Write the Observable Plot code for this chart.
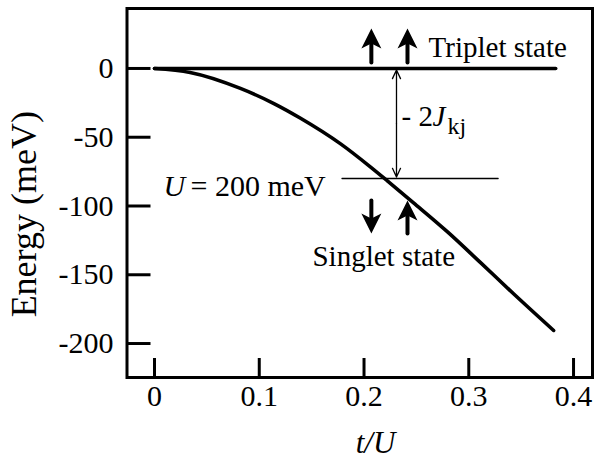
<!DOCTYPE html>
<html>
<head>
<meta charset="utf-8">
<script src="https://cdn.jsdelivr.net/npm/d3@7"></script>
<script src="https://cdn.jsdelivr.net/npm/@observablehq/plot@0.6"></script>
<style>
  html, body { margin: 0; padding: 0; background: #fff; }
  #chart { width: 595px; height: 466px; }
  #chart svg { color: #000; background: #fff; }
  #chart svg, #chart svg text { font-family: "Liberation Serif", "DejaVu Serif", serif !important; }
</style>
</head>
<body>
<div id="chart"></div>
<script>
// ---- data ----
const xTicks = [0, 0.1, 0.2, 0.3, 0.4];
const xTickLabels = ["0", "0.1", "0.2", "0.3", "0.4"];
const yTicks = [0, -50, -100, -150, -200];
const yTickLabels = ["0", "-50", "-100", "-150", "-200"];

// singlet state energy vs t/U
const tOverU   = [0, 0.034, 0.082, 0.114, 0.139, 0.178, 0.206, 0.222, 0.247, 0.280, 0.311, 0.343, 0.381];
const singletE = [0, -2.9, -14.5, -25.5, -36, -55, -71.5, -81.5, -97.5, -119, -141, -164, -190.5];

// triplet state level
const tripletX = [0, 0.383];
const tripletE = [0, 0];

// U = 200 meV reference level
const uLevelX = [0.179, 0.328];
const uLevelE = [-80, -80];

// -2J double arrow
const jArrowX = 0.231;
const jArrowE = [0, -80];

// spin arrows: x, tail, tip
const spinX    = [0.207, 0.2415, 0.207, 0.2415];
const spinTail = [4.4, 4.4, -96, -120];
const spinTip  = [29, 29, -120, -96];

// labels
const labelTexts = ["Triplet state", "Singlet state", "= 200 meV", "- 2"];
const labelX     = [0.2616, 0.1508, 0.0344, 0.2358];
const labelY     = [8, -143.3, -92.4, -41.5];
const labelSize  = [29, 29, 30, 29];

// ---- build ----
const serif = "Liberation Serif";
const W = 595, H = 466, ML = 126.5, MR = 3, MT = 8, MB = 89;
const xDomain = [-0.02625, 0.4181], yDomain = [-224.7, 43.6];
const frameW = W - ML - MR, frameH = H - MT - MB;
// inward tick lengths (px) converted to data units
const xTickLen = 19 * (yDomain[1] - yDomain[0]) / frameH;
const yTickLen = 24 * (xDomain[1] - xDomain[0]) / frameW;
const xTickMarks = xTicks.map(v => ({x: v, y1: yDomain[0], y2: yDomain[0] + xTickLen}));
const yTickMarks = yTicks.map(v => ({y: v, x1: xDomain[0], x2: xDomain[0] + yTickLen}));

const curve = tOverU.map((x, i) => ({x, y: singletE[i]}));
const spins = spinX.map((x, i) => ({x, tail: spinTail[i], tip: spinTip[i], down: spinTip[i] < spinTail[i]}));
const labels = labelTexts.map((t, i) => ({t, x: labelX[i], y: labelY[i], s: labelSize[i]}));
const jMid = (jArrowE[0] + jArrowE[1]) / 2;
const jArrows = jArrowE.map(e => ({x: jArrowX, y1: jMid, y2: e}));

// barbed arrowhead, tip at origin pointing up
const headSymbol = {
  draw(ctx) {
    ctx.moveTo(0, 0);
    ctx.lineTo(10, 20);
    ctx.lineTo(0, 15);
    ctx.lineTo(-10, 20);
    ctx.closePath();
  }
};

const chart = Plot.plot({
  width: W,
  height: H,
  marginLeft: ML,
  marginRight: MR,
  marginTop: MT,
  marginBottom: MB,
  x: {domain: xDomain},
  y: {domain: yDomain},
  marks: [
    Plot.frame({strokeWidth: 3, stroke: "black", fill: "none"}),
    // inward ticks
    Plot.ruleX(xTickMarks, {x: "x", y1: "y1", y2: "y2", stroke: "black", strokeWidth: 3}),
    Plot.ruleY(yTickMarks, {y: "y", x1: "x1", x2: "x2", stroke: "black", strokeWidth: 3}),
    Plot.axisX(xTicks, {tickSize: 0, tickPadding: 7, tickFormat: d => xTickLabels[xTicks.indexOf(d)], label: null, fontSize: 30, fill: "black"}),
    Plot.axisY(yTicks, {tickSize: 0, tickPadding: 13.5, tickFormat: d => yTickLabels[yTicks.indexOf(d)], label: null, fontSize: 30, fill: "black"}),
    // triplet level
    Plot.line(tripletX.map((x, i) => ({x, y: tripletE[i]})), {x: "x", y: "y", strokeWidth: 3.5, stroke: "black"}),
    // singlet curve
    Plot.line(curve, {x: "x", y: "y", curve: "monotone-x", strokeWidth: 3.6, stroke: "black", strokeLinecap: "round"}),
    // U level
    Plot.line(uLevelX.map((x, i) => ({x, y: uLevelE[i]})), {x: "x", y: "y", strokeWidth: 1.3, stroke: "black"}),
    // -2J double arrow
    Plot.arrow(jArrows, {x: "x", y1: "y1", y2: "y2", strokeWidth: 1.3, headLength: 11, headAngle: 50, insetEnd: 1.5, stroke: "black"}),
    // spin arrows
    Plot.arrow(spins, {x: "x", y1: "tail", y2: "tip", strokeWidth: 4, headLength: 0, insetEnd: 10, stroke: "black"}),
    Plot.dot(spins, {x: "x", y: "tip", symbol: headSymbol, r: 10, fill: "black", stroke: null, rotate: d => d.down ? 180 : 0}),
    // labels
    Plot.text(labels, {x: "x", y: "y", text: "t", textAnchor: "start", lineAnchor: "bottom", fontSize: "s", fill: "black"}),
    Plot.text(["U"], {x: 0.0086, y: -92.4, textAnchor: "start", lineAnchor: "bottom", fontSize: 30, fontStyle: "italic", fill: "black"}),
    Plot.text(["J"], {x: 0.2358, y: -41.5, dx: 31, textAnchor: "start", lineAnchor: "bottom", fontSize: 29, fontStyle: "italic", fill: "black"}),
    Plot.text(["kj"], {x: 0.2358, y: -41.5, dx: 46, dy: 8, textAnchor: "start", lineAnchor: "bottom", fontSize: 24, fill: "black"}),
    // axis titles
    Plot.text(["Energy (meV)"], {frameAnchor: "left", y: -106, dx: -91, rotate: -90, textAnchor: "middle", lineAnchor: "bottom", fontSize: 36, fill: "black"}),
    Plot.text(["t/U"], {frameAnchor: "bottom", x: 0.211, dy: 75, textAnchor: "middle", lineAnchor: "bottom", fontSize: 31, fontStyle: "italic", fill: "black"})
  ]
});
document.getElementById("chart").appendChild(chart);
</script>
</body>
</html>
